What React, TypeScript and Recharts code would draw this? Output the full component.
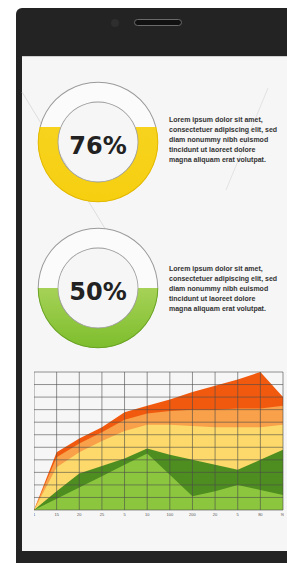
import React from "react";
import { AreaChart, Area, XAxis, YAxis, CartesianGrid, PieChart, Pie, Cell, Label } from "recharts";

// ---- data ----
const xLabels = ["1", "15", "20", "25", "5", "10", "100", "200", "20", "5", "80", "90"];
const yTicks = [0, 1, 2, 3, 4, 5, 6, 7, 8, 9, 10, 11];
const redSeries = [0, 4.6, 5.7, 6.6, 7.8, 8.3, 8.8, 9.4, 9.9, 10.4, 11, 9.0];
const peachSeries = [0, 4.2, 5.3, 6.2, 7.2, 7.7, 7.9, 8.0, 8.0, 8.1, 8.1, 8.3];
const yellowSeries = [0, 3.4, 4.6, 5.5, 6.3, 6.8, 6.8, 6.7, 6.6, 6.6, 6.6, 6.8];
const darkGreenSeries = [0, 1.5, 2.9, 3.5, 4.1, 4.9, 4.4, 4.0, 3.6, 3.2, 4.0, 4.8];
const lightGreenSeries = [0, 0.9, 1.8, 2.7, 3.6, 4.5, 2.8, 1.1, 1.5, 2.0, 1.6, 1.2];

const gaugeLabels = ["76%", "50%"];
const gaugeFillLevels = [62.5, 50]; // visible fill height of ring, % from bottom

const loremLines = [
  "Lorem ipsum dolor sit amet,",
  "consectetuer adipiscing elit, sed",
  "diam nonummy nibh euismod",
  "tincidunt ut laoreet dolore",
  "magna aliquam erat volutpat.",
];

const areaData = xLabels.map((label, i) => ({
  label,
  red: redSeries[i],
  peach: peachSeries[i],
  yellow: yellowSeries[i],
  dgreen: darkGreenSeries[i],
  lgreen: lightGreenSeries[i],
}));

const ring = [{ v: 1 }];

function Gauge({ idx, colorTop, colorBottom, edge, top }: { idx: number; colorTop: string; colorBottom: string; edge: string; top: number }) {
  const cut = 1 - gaugeFillLevels[idx] / 100;
  const gid = `gaugeGrad${idx}`;
  const eid = `gaugeEdge${idx}`;
  return (
    <div style={{ position: "absolute", left: 33, top }}>
      <PieChart width={130} height={130} margin={{ top: 0, right: 0, bottom: 0, left: 0 }}>
        <defs>
          <linearGradient id={gid} x1="0" y1="0" x2="0" y2="1">
            <stop offset="0" stopColor="#fbfbfb" />
            <stop offset={cut} stopColor="#fbfbfb" />
            <stop offset={cut} stopColor={colorTop} />
            <stop offset="1" stopColor={colorBottom} />
          </linearGradient>
          <linearGradient id={eid} x1="0" y1="0" x2="0" y2="1">
            <stop offset="0" stopColor="#9a9a9a" />
            <stop offset={cut} stopColor="#9a9a9a" />
            <stop offset={cut} stopColor={edge} />
            <stop offset="1" stopColor={edge} />
          </linearGradient>
        </defs>
        <Pie data={ring} dataKey="v" cx={65} cy={65} innerRadius={40} outerRadius={60} startAngle={90} endAngle={-270} stroke="none" isAnimationActive={false}>
          <Cell fill={`url(#${gid})`} />
          <Label
            value={gaugeLabels[idx]}
            position="center"
            dy={3}
            style={{ fontSize: 24, fontWeight: 700, fill: "#222", fontFamily: "DejaVu Sans" }}
          />
        </Pie>
        <Pie data={ring} dataKey="v" cx={65} cy={65} innerRadius={59.3} outerRadius={60.3} startAngle={90} endAngle={-270} stroke="none" isAnimationActive={false}>
          <Cell fill={`url(#${eid})`} />
        </Pie>
        <Pie data={ring} dataKey="v" cx={65} cy={65} innerRadius={39.6} outerRadius={40.4} startAngle={90} endAngle={-270} stroke="none" isAnimationActive={false}>
          <Cell fill="#9a9a9a" />
        </Pie>
      </PieChart>
    </div>
  );
}

function Lorem({ top }: { top: number }) {
  return (
    <div
      style={{
        position: "absolute",
        left: 169,
        top,
        fontFamily: "Liberation Sans",
        fontWeight: 700,
        fontSize: 7,
        lineHeight: "10px",
        color: "#333",
        whiteSpace: "nowrap",
      }}
    >
      {loremLines.map((l, i) => (
        <div key={i}>{l}</div>
      ))}
    </div>
  );
}

export default function App() {
  return (
    <div style={{ position: "fixed", left: 0, top: 0, width: 287, height: 563, background: "#ffffff", overflow: "hidden" }}>
      {/* phone body */}
      <div style={{ position: "absolute", left: 16, top: 8, width: 280, height: 560, background: "#232323", borderTopLeftRadius: 6 }} />
      {/* camera + speaker */}
      <div style={{ position: "absolute", left: 111, top: 19, width: 8, height: 8, borderRadius: 4, background: "#2e2e2e" }} />
      <div style={{ position: "absolute", left: 134, top: 19, width: 48, height: 7, borderRadius: 4, background: "#111", border: "1px solid #6a6a6a", boxSizing: "border-box" }} />
      {/* screen */}
      <div style={{ position: "absolute", left: 22, top: 56, width: 270, height: 495, background: "#f6f6f6", borderTop: "1px solid #cfcfcf", boxSizing: "border-box" }} />
      {/* faint background lines */}
      <svg style={{ position: "absolute", left: 0, top: 0 }} width={287} height={563}>
        <line x1={22} y1={92} x2={112} y2={240} stroke="#dedede" strokeWidth={1} />
        <line x1={268} y1={88} x2={226} y2={190} stroke="#e2e2e2" strokeWidth={1} />
      </svg>

      <Gauge idx={0} colorTop="#f7d31e" colorBottom="#f6cf10" edge="#e2b800" top={77} />
      <Gauge idx={1} colorTop="#a6d257" colorBottom="#7dbd2c" edge="#6aa324" top={223} />

      <Lorem top={115} />
      <Lorem top={264} />

      <div style={{ position: "absolute", left: 34, top: 371 }}>
        <AreaChart width={250} height={149} data={areaData} margin={{ top: 1, right: 1, bottom: 0, left: 0 }}>
          <XAxis
            dataKey="label"
            interval={0}
            axisLine={false}
            tickLine={false}
            tickSize={2}
            tickMargin={1}
            height={10}
            tick={{ fontSize: 4, fill: "#555", fontFamily: "Liberation Sans" }}
          />
          <YAxis hide type="number" domain={[0, 11]} ticks={yTicks} interval={0} />
          <Area type="linear" dataKey="red" stroke="none" fill="#f15a0e" fillOpacity={1} isAnimationActive={false} />
          <Area type="linear" dataKey="peach" stroke="none" fill="#f8a04a" fillOpacity={1} isAnimationActive={false} />
          <Area type="linear" dataKey="yellow" stroke="none" fill="#fcd96a" fillOpacity={1} isAnimationActive={false} />
          <Area type="linear" dataKey="dgreen" stroke="none" fill="#4e8d20" fillOpacity={1} isAnimationActive={false} />
          <Area type="linear" dataKey="lgreen" stroke="none" fill="#8cc63f" fillOpacity={1} isAnimationActive={false} />
          <CartesianGrid stroke="#4a4a4a" strokeWidth={0.7} strokeOpacity={0.85} zIndex={1000} />
        </AreaChart>
      </div>
    </div>
  );
}
